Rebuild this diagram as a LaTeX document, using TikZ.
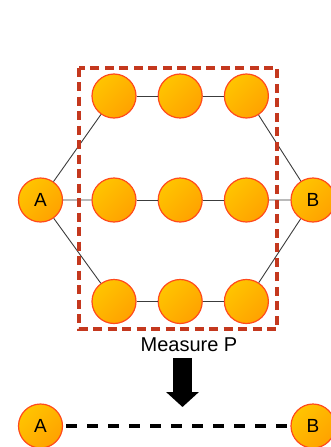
\documentclass[tikz,border=0pt]{standalone}
\usepackage{fontspec}
\setmainfont{Liberation Sans}
\usetikzlibrary{arrows.meta, positioning}
\definecolor{nodeyellow}{HTML}{FFC400}
\definecolor{nodeorange}{HTML}{FFA200}
\definecolor{noderim}{HTML}{FF4A1C}
\definecolor{boxred}{HTML}{C4381E}
\definecolor{linkgray}{HTML}{3C3C3C}

\begin{document}
\begin{tikzpicture}[x=1pt, y=-1pt, >=Latex]
    \tikzset{site/.style = {circle, draw=noderim, line width=1.2pt, top color=nodeyellow, bottom color=nodeorange, shading angle=45, minimum size=44pt, inner sep=0pt, font=\fontsize{19}{19}\selectfont}}
    \tikzset{link/.style = {draw=linkgray, line width=0.9pt}}
    \useasboundingbox (0,0) rectangle (331,447);

    % network
    \node [site] (A) at (40.5,200) {A};
    \node [site] (B) at (313,200) {B};
    \node [site] (t1) at (114,96) {};
    \node [site, right=21pt of t1] (t2) {};
    \node [site, right=21pt of t2] (t3) {};
    \node [site] (m1) at (114,200) {};
    \node [site, right=21pt of m1] (m2) {};
    \node [site, right=21pt of m2] (m3) {};
    \node [site] (b1) at (114,301.5) {};
    \node [site, right=21pt of b1] (b2) {};
    \node [site, right=21pt of b2] (b3) {};

    \path [link] (A) -- (t1) (A) -- (m1) (A) -- (b1);
    \path [link] (t1) -- (t2) -- (t3) (m1) -- (m2) -- (m3) (b1) -- (b2) -- (b3);
    \path [link] (t3) -- (B) (m3) -- (B) (b3) -- (B);

    % region that is measured
    \draw [boxred, line width=4pt, dash pattern=on 9pt off 5.5pt] (79,67.5) rectangle (277,329);
    \node (measure) at (189,345) {\fontsize{20}{20}\selectfont Measure P};

    % result
    \coordinate (shaft) at (182.5,358);
    \coordinate (tip) at (182.5,407);
    \draw [line width=19pt, -{Triangle[width=32pt, length=15pt]}] (shaft) -- (tip);

    \node [site] (A2) at (40.5,426) {A};
    \node [site] (B2) at (313,426) {B};
    \draw [line width=4.5pt, dash pattern=on 11pt off 10pt, shorten <=3pt] (A2) -- (B2);
\end{tikzpicture}
\end{document}
